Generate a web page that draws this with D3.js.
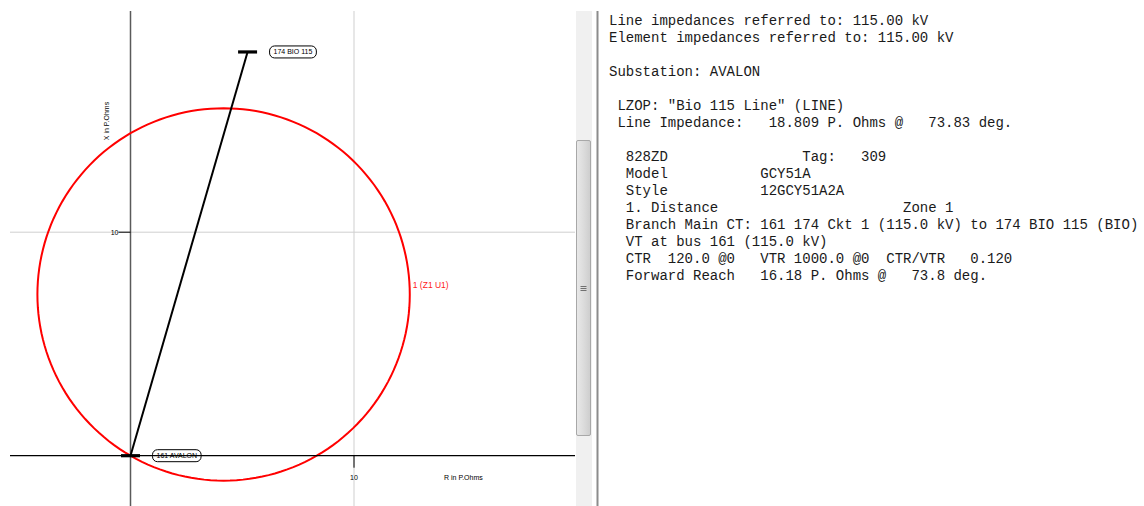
<!DOCTYPE html>
<html>
<head>
<meta charset="utf-8">
<script src="https://cdn.jsdelivr.net/npm/d3@7"></script>
<style>
  html, body { margin: 0; padding: 0; background: #fff; }
  svg { display: block; }
  .mono { font-family: "Courier New", "Liberation Mono", monospace; font-size: 14px; fill: #1a1a1a; white-space: pre; }
  .small { font-family: Arial, "Liberation Sans", sans-serif; font-size: 7px; fill: #000; }
</style>
</head>
<body>
<svg id="chart" width="1144" height="506"></svg>
<script>
// Impedance plane (R, X in primary ohms)
const lineImpedance = { mag: 18.809, angle: 73.83 };   // LZOP "Bio 115 Line"
const forwardReach = { mag: 16.18, angle: 73.8 };      // zone 1 reach along line angle
const mhoTorqueAngle = 60;                              // characteristic angle of the mho circle
const buses = [
  { name: "161 AVALON", end: 0 },
  { name: "174 BIO 115", end: 1 }
];
const zoneLabel = "1 (Z1 U1)";
const xTicks = [10];
const yTicks = [10];
const xAxisTitle = "R in P.Ohms";
const yAxisTitle = "X in P.Ohms";

// Report text shown in the side panel
const reportLines = [
  "Line impedances referred to: 115.00 kV",
  "Element impedances referred to: 115.00 kV",
  "",
  "Substation: AVALON",
  "",
  " LZOP: \"Bio 115 Line\" (LINE)",
  " Line Impedance:   18.809 P. Ohms @   73.83 deg.",
  "",
  "  828ZD                Tag:   309",
  "  Model           GCY51A",
  "  Style           12GCY51A2A",
  "  1. Distance                      Zone 1",
  "  Branch Main CT: 161 174 Ckt 1 (115.0 kV) to 174 BIO 115 (BIO)",
  "  VT at bus 161 (115.0 kV)",
  "  CTR  120.0 @0   VTR 1000.0 @0  CTR/VTR   0.120",
  "  Forward Reach   16.18 P. Ohms @   73.8 deg."
];

const svg = d3.select("#chart");
const rad = d => d * Math.PI / 180;

// Plot frame
const plot = { left: 10, right: 575, top: 11, bottom: 506 };
const origin = { x: 130.5, y: 455.7 };
const pxPerOhm = 22.35;

const x = d3.scaleLinear()
  .domain([(plot.left - origin.x) / pxPerOhm, (plot.right - origin.x) / pxPerOhm])
  .range([plot.left, plot.right]);
const y = d3.scaleLinear()
  .domain([(origin.y - plot.bottom) / pxPerOhm, (origin.y - plot.top) / pxPerOhm])
  .range([plot.bottom, plot.top]);

svg.append("defs").append("clipPath").attr("id", "plotClip")
  .append("rect").attr("x", plot.left).attr("y", plot.top)
  .attr("width", plot.right - plot.left).attr("height", plot.bottom - plot.top);

const g = svg.append("g").attr("clip-path", "url(#plotClip)");

// Grid lines
g.selectAll(".gx").data(xTicks).join("line")
  .attr("x1", d => x(d)).attr("x2", d => x(d))
  .attr("y1", plot.top).attr("y2", plot.bottom)
  .attr("stroke", "#cfcfcf").attr("stroke-width", 1);
g.selectAll(".gy").data(yTicks).join("line")
  .attr("x1", plot.left).attr("x2", plot.right)
  .attr("y1", d => y(d)).attr("y2", d => y(d))
  .attr("stroke", "#cfcfcf").attr("stroke-width", 1);

// X (reactance) axis: vertical through R = 0
g.append("line")
  .attr("x1", x(0)).attr("x2", x(0)).attr("y1", plot.top).attr("y2", plot.bottom)
  .attr("stroke", "#5a5a5a").attr("stroke-width", 1.5);

// Tick marks and labels
g.selectAll(".tx").data(xTicks).join("line")
  .attr("x1", d => x(d)).attr("x2", d => x(d))
  .attr("y1", y(0)).attr("y2", y(0) + 12)
  .attr("stroke", "#000").attr("stroke-width", 1);
g.selectAll(".ty").data(yTicks).join("line")
  .attr("x1", x(0) - 12).attr("x2", x(0))
  .attr("y1", d => y(d)).attr("y2", d => y(d))
  .attr("stroke", "#000").attr("stroke-width", 1);
g.selectAll(".tlx").data(xTicks).join("text").attr("class", "small")
  .attr("x", d => x(d)).attr("y", y(0) + 24.5).attr("text-anchor", "middle")
  .text(d => d);
g.selectAll(".tly").data(yTicks).join("text").attr("class", "small")
  .attr("x", x(0) - 12).attr("y", d => y(d) + 2.5).attr("text-anchor", "end")
  .text(d => d);

// Axis titles
g.append("text").attr("class", "small").attr("font-size", 7.5)
  .attr("x", 444).attr("y", y(0) + 24)
  .text(xAxisTitle);
g.append("text").attr("class", "small").attr("font-size", 7.5)
  .attr("transform", `translate(${x(0) - 21.5},${121}) rotate(-90)`)
  .attr("text-anchor", "middle")
  .text(yAxisTitle);

// Mho circle: diameter chosen so the reach along the line angle equals forwardReach
const diameter = forwardReach.mag / Math.cos(rad(forwardReach.angle - mhoTorqueAngle));
const centerR = diameter / 2 * Math.cos(rad(mhoTorqueAngle));
const centerX = diameter / 2 * Math.sin(rad(mhoTorqueAngle));
const circlePts = d3.range(0, 361, 2).map(a => [
  centerR + diameter / 2 * Math.cos(rad(a)),
  centerX + diameter / 2 * Math.sin(rad(a))
]);
g.append("path")
  .datum(circlePts)
  .attr("d", d3.line().x(d => x(d[0])).y(d => y(d[1])).curve(d3.curveLinearClosed))
  .attr("fill", "none").attr("stroke", "#ff0000").attr("stroke-width", 2);

g.append("text")
  .attr("x", x(centerR + diameter / 2) + 3).attr("y", y(centerX) - 6.5)
  .attr("font-family", "Arial, 'Liberation Sans', sans-serif").attr("font-size", 8.5)
  .attr("fill", "#ff2020")
  .text(zoneLabel);

// Line impedance segment
const lineEnd = [
  lineImpedance.mag * Math.cos(rad(lineImpedance.angle)),
  lineImpedance.mag * Math.sin(rad(lineImpedance.angle))
];
g.append("line")
  .attr("x1", x(0)).attr("y1", y(0))
  .attr("x2", x(lineEnd[0])).attr("y2", y(lineEnd[1]))
  .attr("stroke", "#000").attr("stroke-width", 2);

// R axis: horizontal through X = 0
g.append("line")
  .attr("x1", plot.left).attr("x2", plot.right).attr("y1", y(0)).attr("y2", y(0))
  .attr("stroke", "#000").attr("stroke-width", 1.2);

// Bus bars and bus labels
buses.forEach(b => {
  const p = [lineEnd[0] * b.end, lineEnd[1] * b.end];
  const cx = x(p[0]), cy = y(p[1]);
  g.append("line")
    .attr("x1", cx - 9.5).attr("x2", cx + 9.5).attr("y1", cy).attr("y2", cy)
    .attr("stroke", "#000").attr("stroke-width", 3.2);
  const lbl = g.append("g").attr("transform", `translate(${cx + 22},${cy})`);
  const t = lbl.append("text").attr("class", "small")
    .attr("x", 4).attr("y", 2.5).attr("font-size", 6.8)
    .text(b.name);
  const w = t.node().getComputedTextLength() + 8;
  lbl.insert("rect", "text")
    .attr("x", 0).attr("y", -6).attr("width", w).attr("height", 12)
    .attr("rx", 5).attr("ry", 5)
    .attr("fill", "none").attr("stroke", "#000").attr("stroke-width", 1);
});

// Scrollbar between plot and report
const sb = svg.append("g");
sb.append("rect").attr("x", 576).attr("y", 11).attr("width", 16).attr("height", 495).attr("fill", "#f0f0f0");
const grad = svg.select("defs").append("linearGradient").attr("id", "thumbGrad")
  .attr("x1", 0).attr("x2", 1).attr("y1", 0).attr("y2", 0);
grad.append("stop").attr("offset", 0).attr("stop-color", "#e9e9e9");
grad.append("stop").attr("offset", 0.5).attr("stop-color", "#dcdcdc");
grad.append("stop").attr("offset", 1).attr("stop-color", "#cdcdcd");
sb.append("rect").attr("x", 576.5).attr("y", 140.5).attr("width", 14).attr("height", 295)
  .attr("rx", 1.5).attr("fill", "url(#thumbGrad)").attr("stroke", "#a8a8a8");
[-2, 0, 2].forEach(o => sb.append("line")
  .attr("x1", 580.5).attr("x2", 586.5).attr("y1", 288.5 + o).attr("y2", 288.5 + o)
  .attr("stroke", "#707070").attr("stroke-width", 1));
sb.append("rect").attr("x", 596.5).attr("y", 11).attr("width", 2).attr("height", 495).attr("fill", "#8c8c8c");

// Report text
svg.append("g").selectAll("text").data(reportLines).join("text")
  .attr("class", "mono")
  .attr("xml:space", "preserve")
  .attr("x", 609)
  .attr("y", (d, i) => 25 + i * 17)
  .text(d => d);
</script>
</body>
</html>
